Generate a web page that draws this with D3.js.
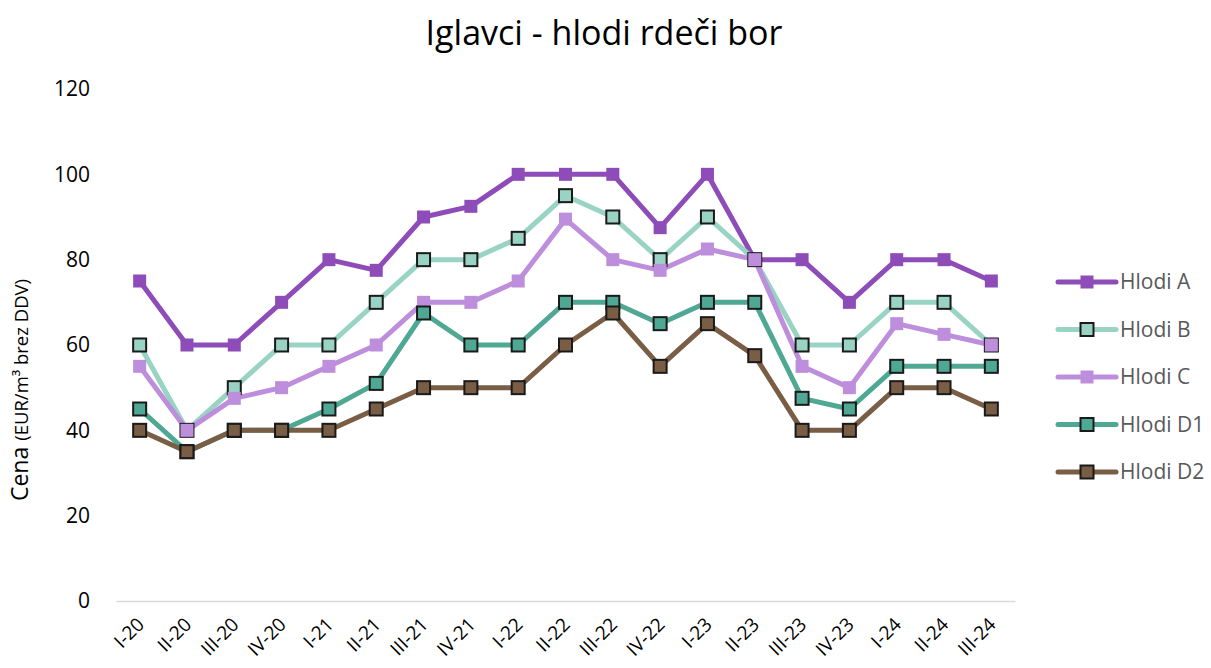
<!DOCTYPE html>
<html>
<head>
<meta charset="utf-8">
<script src="https://cdn.jsdelivr.net/npm/d3@7"></script>
<style>
  body { margin: 0; background: #fff; }
  text { font-family: "Open Sans", "Noto Sans", sans-serif; }
</style>
</head>
<body>
<div class="chart"></div>
<script>
// quarters on the x axis
const quarters = ['I-20','II-20','III-20','IV-20','I-21','II-21','III-21','IV-21','I-22','II-22',
  'III-22','IV-22','I-23','II-23','III-23','IV-23','I-24','II-24','III-24'];

const hlodiA  = [75, 60, 60, 70, 80, 77.5, 90, 92.5, 100, 100, 100, 87.5, 100, 80, 80, 70, 80, 80, 75];
const hlodiB  = [60, 40, 50, 60, 60, 70, 80, 80, 85, 95, 90, 80, 90, 80, 60, 60, 70, 70, 60];
const hlodiC  = [55, 40, 47.5, 50, 55, 60, 70, 70, 75, 89.5, 80, 77.5, 82.5, 80, 55, 50, 65, 62.5, 60];
const hlodiD1 = [45, 35, 40, 40, 45, 51, 67.5, 60, 60, 70, 70, 65, 70, 70, 47.5, 45, 55, 55, 55];
const hlodiD2 = [40, 35, 40, 40, 40, 45, 50, 50, 50, 60, 67.5, 55, 65, 57.5, 40, 40, 50, 50, 45];

const seriesNames = ['Hlodi A', 'Hlodi B', 'Hlodi C', 'Hlodi D1', 'Hlodi D2'];
const yTicks = [0, 20, 40, 60, 80, 100, 120];

const series = [
  {name: seriesNames[0], values: hlodiA,  color: '#8e4cb8', border: false},
  {name: seriesNames[1], values: hlodiB,  color: '#98d3c3', border: true},
  {name: seriesNames[2], values: hlodiC,  color: '#bd8edc', border: false},
  {name: seriesNames[3], values: hlodiD1, color: '#4fa893', border: true},
  {name: seriesNames[4], values: hlodiD2, color: '#7a5d45', border: true}
];

const width = 1211, height = 668;
const svg = d3.select('.chart').append('svg')
  .attr('width', width)
  .attr('height', height);

const x = d3.scaleBand().domain(quarters).range([116, 1015]);
const y = d3.scaleLinear().domain([0, 120]).range([601, 89]);
const cx = d => x(d) + x.bandwidth() / 2;

// title
const title = svg.append('text')
  .attr('x', 604)
  .attr('y', 45)
  .attr('text-anchor', 'middle')
  .attr('font-size', 30)
  .attr('fill', '#000')
  .text('Iglavci - hlodi rdeči bor');
const tw = title.node().getComputedTextLength();
title.attr('font-size', 30 * 357 / tw);

// y axis labels (no line, no grid)
const yAxis = svg.append('g')
  .attr('transform', 'translate(90,0)')
  .call(d3.axisLeft(y).tickValues(yTicks).tickSize(0).tickPadding(0));
yAxis.select('.domain').remove();
yAxis.selectAll('text')
  .attr('font-size', 21)
  .attr('fill', '#000')
  .style('font-family', '"Open Sans", sans-serif');

// x axis
const xAxis = svg.append('g')
  .attr('transform', 'translate(0,601)')
  .call(d3.axisBottom(x).tickSize(0).tickPadding(0));
xAxis.select('.domain').attr('stroke', '#d9d9d9').attr('stroke-width', 1.5);
xAxis.selectAll('text')
  .attr('font-size', 19)
  .attr('fill', '#000')
  .style('font-family', '"Open Sans", sans-serif')
  .attr('text-anchor', 'end')
  .attr('transform', 'translate(1,20) rotate(-45)')
  .attr('dy', '0.35em');

// y axis title
const yTitle = svg.append('text')
  .attr('transform', 'translate(28,390) rotate(-90)')
  .attr('text-anchor', 'middle')
  .attr('fill', '#000');
yTitle.append('tspan').attr('font-size', 23).text('Cena ');
yTitle.append('tspan').attr('font-size', 18.5).text('(EUR/m³ brez DDV)');

// lines and markers
const line = d3.line()
  .x((d, i) => cx(quarters[i]))
  .y(d => y(d));

const ms = 13;
series.forEach(s => {
  svg.append('path')
    .datum(s.values)
    .attr('d', line)
    .attr('fill', 'none')
    .attr('stroke', s.color)
    .attr('stroke-width', 5)
    .attr('stroke-linejoin', 'round');
});
series.forEach(s => {
  svg.append('g').selectAll('rect')
    .data(s.values)
    .join('rect')
    .attr('x', (d, i) => cx(quarters[i]) - ms / 2)
    .attr('y', d => y(d) - ms / 2)
    .attr('width', ms)
    .attr('height', ms)
    .attr('fill', s.color)
    .attr('stroke', s.border ? '#1a1a1a' : 'none')
    .attr('stroke-width', 2);
});

// legend
const legend = svg.append('g');
series.forEach((s, i) => {
  const ly = 282 + i * 47.5;
  const g = legend.append('g').attr('transform', `translate(0,${ly})`);
  g.append('line')
    .attr('x1', 1058).attr('x2', 1116)
    .attr('y1', 0).attr('y2', 0)
    .attr('stroke', s.color)
    .attr('stroke-width', 5)
    .attr('stroke-linecap', 'round');
  g.append('rect')
    .attr('x', 1087 - ms / 2).attr('y', -ms / 2)
    .attr('width', ms).attr('height', ms)
    .attr('fill', s.color)
    .attr('stroke', s.border ? '#1a1a1a' : 'none')
    .attr('stroke-width', 2);
  g.append('text')
    .attr('x', 1120)
    .attr('y', 0)
    .attr('dy', '0.35em')
    .attr('font-size', 21)
    .attr('fill', '#595959')
    .text(s.name);
});
</script>
</body>
</html>
